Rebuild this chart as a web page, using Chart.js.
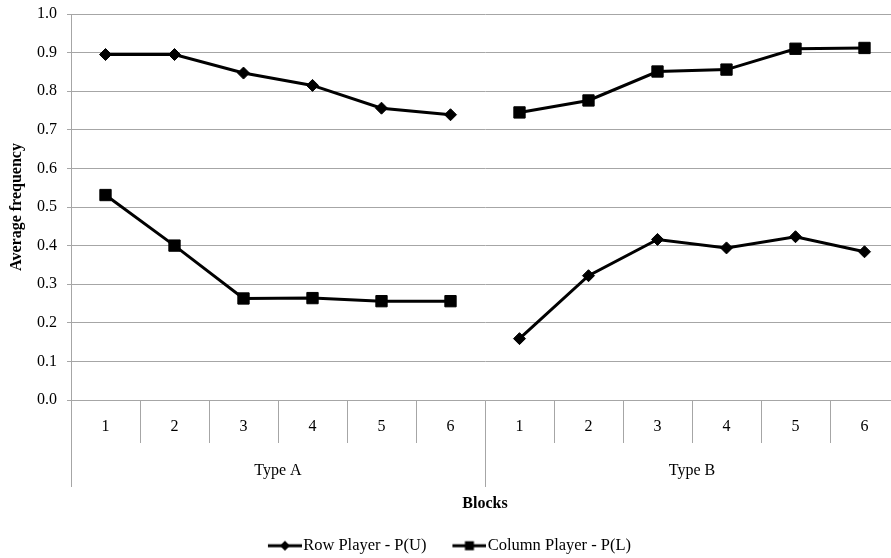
<!DOCTYPE html>
<html>
<head>
<meta charset="utf-8">
<script src="https://cdn.jsdelivr.net/npm/chart.js@4.4.1/dist/chart.umd.min.js"></script>
<style>
html,body{margin:0;padding:0;background:#fff;overflow:hidden;}
#wrap{width:900px;height:558px;position:relative;}
</style>
</head>
<body>
<div id="wrap"><canvas id="c"></canvas></div>
<script>
// ---- data ----
const blocks = ['1','2','3','4','5','6','1','2','3','4','5','6'];
const types = ['Type A','Type B'];
const rowPlayer = [0.895,0.895,0.847,0.815,0.756,0.739,0.159,0.322,0.416,0.394,0.423,0.384];
const colPlayer = [0.531,0.400,0.263,0.264,0.256,0.256,0.745,0.776,0.851,0.856,0.910,0.912];
const seriesNames = ['Row Player - P(U)','Column Player - P(L)'];
const yMin = 0, yMax = 1.0, yStep = 0.1;

// ---- style ----
const FONT = '"Liberation Serif","Times New Roman",serif';
const GRID = '#a6a6a6';
const breakAt = 5; // no line between Type A block 6 and Type B block 1

function legendIcon(kind){
  const c = document.createElement('canvas');
  c.width = 41; c.height = 12;
  const g = c.getContext('2d');
  g.fillStyle = '#000';
  g.fillRect(7, 4.5, 34, 3);
  const cx = 24;
  if (kind === 'diamond'){
    g.beginPath();
    g.moveTo(cx, 1); g.lineTo(cx+5, 6); g.lineTo(cx, 11); g.lineTo(cx-5, 6);
    g.closePath(); g.fill();
  } else {
    g.fillRect(cx-4.5, 1.5, 9, 9);
  }
  return c;
}
const icons = [legendIcon('diamond'), legendIcon('square')];

const seg = { borderColor: ctx => ctx.p0DataIndex === breakAt ? 'rgba(0,0,0,0)' : undefined };

new Chart(document.getElementById('c'), {
  type: 'line',
  data: {
    labels: blocks,
    datasets: [
      { label: seriesNames[0], data: rowPlayer, borderColor:'#000', backgroundColor:'#000',
        borderWidth:3, pointStyle:'rectRot', pointRadius:6, pointBorderWidth:1,
        pointBackgroundColor:'#000', pointBorderColor:'#000', tension:0, segment: seg },
      { label: seriesNames[1], data: colPlayer, borderColor:'#000', backgroundColor:'#000',
        borderWidth:3, pointStyle:'rect', pointRadius:8, pointBorderWidth:1,
        pointBackgroundColor:'#000', pointBorderColor:'#000', tension:0, segment: seg }
    ]
  },
  options: {
    responsive: true,
    maintainAspectRatio: false,
    animation: false,
    devicePixelRatio: 1,
    layout: { autoPadding: false, padding: { top: 14, right: 1, left: 0, bottom: -6 } },
    plugins: {
      tooltip: { enabled: false },
      legend: {
        position: 'bottom',
        labels: {
          usePointStyle: true,
          pointStyleWidth: 27,
          padding: 26,
          color: '#000',
          font: { family: FONT, size: 16.5 },
          generateLabels: chart => chart.data.datasets.map((d, i) => ({
            text: d.label, pointStyle: icons[i], fillStyle:'#000', strokeStyle:'#000',
            lineWidth: 0, hidden: false, datasetIndex: i, fontColor:'#000'
          }))
        }
      }
    },
    scales: {
      y: {
        min: yMin, max: yMax,
        afterFit: s => { s.width = 71; s.paddingTop = 0; s.paddingBottom = 0; },
        ticks: { stepSize: yStep, color:'#000', padding: 10,
                 font: { family: FONT, size: 16 },
                 callback: v => Number(v).toFixed(1) },
        grid: { color: GRID, lineWidth: 1, tickLength: 4 },
        border: { color: GRID, width: 1 },
        title: { display: true, text: 'Average frequency', color:'#000',
                 font: { family: FONT, size: 16, weight: 'bold' },
                 padding: { top: 7, bottom: 0 } }
      },
      x: {
        type: 'category',
        position: 'bottom',
        offset: true,
        afterFit: s => { s.height = 43; },
        ticks: { color:'#000', padding: -26, maxRotation: 0, autoSkip: false,
                 font: { family: FONT, size: 16 } },
        grid: { offset: true, drawOnChartArea: false, color: GRID, lineWidth: 1, tickLength: 43 },
        border: { color: GRID, width: 1 }
      },
      x2: {
        type: 'category',
        position: 'bottom',
        offset: true,
        labels: types,
        afterFit: s => { s.height = 68.5; },
        ticks: { color:'#000', padding: -26, maxRotation: 0, autoSkip: false,
                 font: { family: FONT, size: 16 } },
        grid: { offset: true, drawOnChartArea: false, color: GRID, lineWidth: 1, tickLength: 44 },
        border: { display: false },
        title: { display: true, text: 'Blocks', color:'#000',
                 font: { family: FONT, size: 16, weight: 'bold' },
                 padding: { top: 0, bottom: -2 } }
      }
    }
  }
});
</script>
</body>
</html>
